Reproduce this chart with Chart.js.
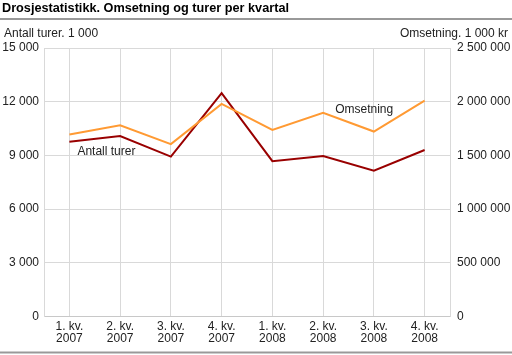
<!DOCTYPE html>
<html><head><meta charset="utf-8">
<script src="https://cdn.jsdelivr.net/npm/chart.js@4"></script>
<style>html,body{margin:0;padding:0;background:#fff;}#wrap{position:relative;width:512px;height:355px;}</style>
</head><body><div id="wrap"><canvas id="c" width="512" height="355"></canvas></div>
<script>
const categories = [["1. kv.","2007"],["2. kv.","2007"],["3. kv.","2007"],["4. kv.","2007"],["1. kv.","2008"],["2. kv.","2008"],["3. kv.","2008"],["4. kv.","2008"]];
const antallTurer = [9760, 10080, 8930, 12480, 8680, 8970, 8150, 9300];
const omsetning = [1694000, 1781000, 1605000, 1979000, 1738000, 1896000, 1722000, 2010000];
const leftTicks = [0, 3000, 6000, 9000, 12000, 15000];
const rightTicks = [0, 500000, 1000000, 1500000, 2000000, 2500000];
const titleText = "Drosjestatistikk. Omsetning og turer per kvartal";
const leftTitle = "Antall turer. 1 000";
const rightTitle = "Omsetning. 1 000 kr";

const fmt = v => String(v).replace(/\B(?=(\d{3})+(?!\d))/g, " ");
const FONT = "Liberation Sans, Arial, sans-serif";
const GRID = "#d9d9d9";

const textPlugin = {
  id: "texts",
  afterDraw(chart) {
    const ctx = chart.ctx;
    ctx.save();
    ctx.fillStyle = "#000";
    ctx.font = "bold 12.7px " + FONT;
    ctx.textBaseline = "alphabetic";
    ctx.textAlign = "left";
    ctx.fillText(titleText, 2, 12);
    ctx.strokeStyle = "#999";
    ctx.lineWidth = 2;
    ctx.beginPath(); ctx.moveTo(0, 19); ctx.lineTo(512, 19); ctx.stroke();
    ctx.beginPath(); ctx.moveTo(0, 352.5); ctx.lineTo(512, 352.5); ctx.stroke();
    ctx.font = "12px " + FONT;
    ctx.fillStyle = "#222";
    ctx.fillText(leftTitle, 4, 37);
    ctx.textAlign = "right";
    ctx.fillText(rightTitle, 508, 37);
    const x = chart.scales.x, yl = chart.scales.y, yr = chart.scales.y1;
    ctx.textAlign = "left";
    ctx.textBaseline = "middle";
    ctx.fillText("Antall turer", x.getPixelForValue(0) + 8, yl.getPixelForValue(9000) - 4);
    ctx.fillText("Omsetning", x.getPixelForValue(5) + 12, yr.getPixelForValue(1950000) + 3);
    ctx.restore();
  }
};

new Chart(document.getElementById("c"), {
  type: "line",
  data: {
    labels: categories,
    datasets: [
      { label: "Omsetning", data: omsetning, yAxisID: "y1", borderColor: "#ff9a33", borderWidth: 2, pointRadius: 0, tension: 0, fill: false },
      { label: "Antall turer", data: antallTurer, yAxisID: "y", borderColor: "#990000", borderWidth: 2, pointRadius: 0, tension: 0, fill: false }
    ]
  },
  options: {
    responsive: false,
    animation: false,
    devicePixelRatio: 1,
    layout: { padding: { top: 48, bottom: 0, left: 0, right: 0 } },
    plugins: { legend: { display: false }, tooltip: { enabled: false }, title: { display: false } },
    scales: {
      x: {
        offset: true,
        grid: { color: GRID, offset: false, drawTicks: false, lineWidth: 1 },
        border: { color: "#c8c8c8", width: 1 },
        ticks: { color: "#222", font: { family: FONT, size: 12, lineHeight: 1.0 }, padding: 4, maxRotation: 0, autoSkip: false },
        afterFit(s) { s.height = 38.5; }
      },
      y: {
        position: "left",
        min: 0, max: 15000,
        afterBuildTicks(s) { s.ticks = leftTicks.map(v => ({ value: v })); },
        grid: { color: GRID, drawTicks: false },
        border: { color: GRID },
        ticks: { color: "#222", font: { family: FONT, size: 12 }, padding: 5, callback: v => fmt(v) },
        afterFit(s) { s.width = 44; }
      },
      y1: {
        position: "right",
        min: 0, max: 2500000,
        afterBuildTicks(s) { s.ticks = rightTicks.map(v => ({ value: v })); },
        grid: { drawOnChartArea: false, drawTicks: false },
        border: { color: GRID },
        ticks: { color: "#222", font: { family: FONT, size: 12 }, padding: 7, callback: v => fmt(v) },
        afterFit(s) { s.width = 62; }
      }
    }
  },
  plugins: [textPlugin]
});
</script></body></html>
